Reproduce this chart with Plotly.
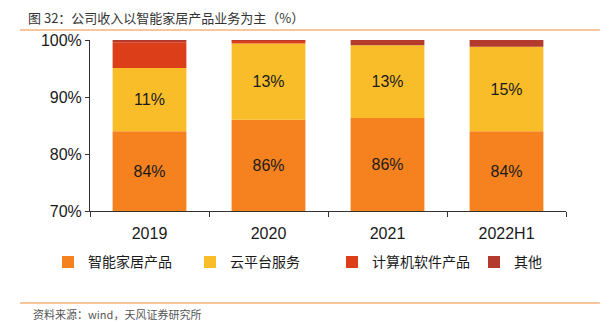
import plotly.graph_objects as go

categories = ["2019", "2020", "2021", "2022H1"]
series_names = ["智能家居产品", "云平台服务", "计算机软件产品", "其他"]
smart_home = [84.0, 86.0, 86.3, 84.0]
cloud = [11.1, 13.4, 12.8, 14.8]
software = [4.5, 0.5, 0.0, 0.0]
other = [0.4, 0.1, 0.9, 1.2]
label_smart = ["84%", "86%", "86%", "84%"]
label_cloud = ["11%", "13%", "13%", "15%"]
y_ticks = [70, 80, 90, 100]
y_tick_labels = ["70%", "80%", "90%", "100%"]

FONT = "Liberation Sans, Noto Sans CJK SC, sans-serif"
colors = ["#f5821f", "#f9bd2a", "#dd3e1a", "#b33a2c"]

fig = go.Figure()
base0 = [70] * 4
vals0 = [v - 70 for v in smart_home]
fig.add_trace(go.Bar(x=categories, y=vals0, base=base0, name=series_names[0],
                     marker=dict(color=colors[0], line=dict(width=0)),
                     text=label_smart, textposition="inside", insidetextanchor="middle",
                     textfont=dict(size=16, color="#1a1a1a", family=FONT)))
fig.add_trace(go.Bar(x=categories, y=cloud, base=smart_home, name=series_names[1],
                     marker=dict(color=colors[1], line=dict(width=0)),
                     text=label_cloud, textposition="inside", insidetextanchor="middle",
                     textfont=dict(size=16, color="#1a1a1a", family=FONT)))
base2 = [a + b for a, b in zip(smart_home, cloud)]
fig.add_trace(go.Bar(x=categories, y=software, base=base2, name=series_names[2],
                     marker=dict(color=colors[2], line=dict(width=0))))
base3 = [a + b for a, b in zip(base2, software)]
fig.add_trace(go.Bar(x=categories, y=other, base=base3, name=series_names[3],
                     marker=dict(color=colors[3], line=dict(width=0))))

fig.update_layout(
    width=616, height=324,
    margin=dict(l=90, r=50, t=40, b=113),
    barmode="overlay", bargap=0.38,
    plot_bgcolor="white", paper_bgcolor="white",
    font=dict(family=FONT, color="#1a1a1a"),
    showlegend=True,
    legend=dict(orientation="h", x=-0.025, xanchor="left", y=-0.30, yanchor="middle",
                font=dict(size=14, color="#1a1a1a", family=FONT),
                bgcolor="rgba(0,0,0,0)",
                entrywidth=97, entrywidthmode="pixels", traceorder="normal",
                itemwidth=30, itemclick=False),
    xaxis=dict(type="category", showline=True, linecolor="#333", linewidth=1,
               ticks="outside", tickson="boundaries", ticklen=5, tickcolor="#333",
               ticklabelstandoff=8,
               tickfont=dict(size=16, color="#1a1a1a"), showgrid=False),
    yaxis=dict(range=[70, 100], tickvals=y_ticks, ticktext=y_tick_labels,
               showline=True, linecolor="#333", linewidth=1,
               ticks="outside", ticklen=4, tickcolor="#333",
               tickfont=dict(size=16, color="#1a1a1a"), showgrid=False, zeroline=False),
    uniformtext=dict(mode="show", minsize=10),
)

fig.add_annotation(text="图 32：公司收入以智能家居产品业务为主（%）", xref="paper", yref="paper",
                   x=-0.135, y=1.13, xanchor="left", yanchor="middle", showarrow=False,
                   font=dict(size=13, color="#333", family="Noto Sans CJK SC, sans-serif"))
fig.add_shape(type="line", xref="paper", yref="paper", x0=-0.147, x1=1.071, y0=1.058, y1=1.058,
              line=dict(color="#f7b27a", width=1.5))
fig.add_shape(type="line", xref="paper", yref="paper", x0=-0.147, x1=1.071, y0=-0.538, y1=-0.538,
              line=dict(color="#f7b27a", width=1.5))
fig.add_annotation(text="资料来源：wind，天风证券研究所", xref="paper", yref="paper",
                   x=-0.125, y=-0.60, xanchor="left", yanchor="middle", showarrow=False,
                   font=dict(size=11, color="#555", family="Noto Sans CJK SC, sans-serif"))

fig.write_html("out.html")
